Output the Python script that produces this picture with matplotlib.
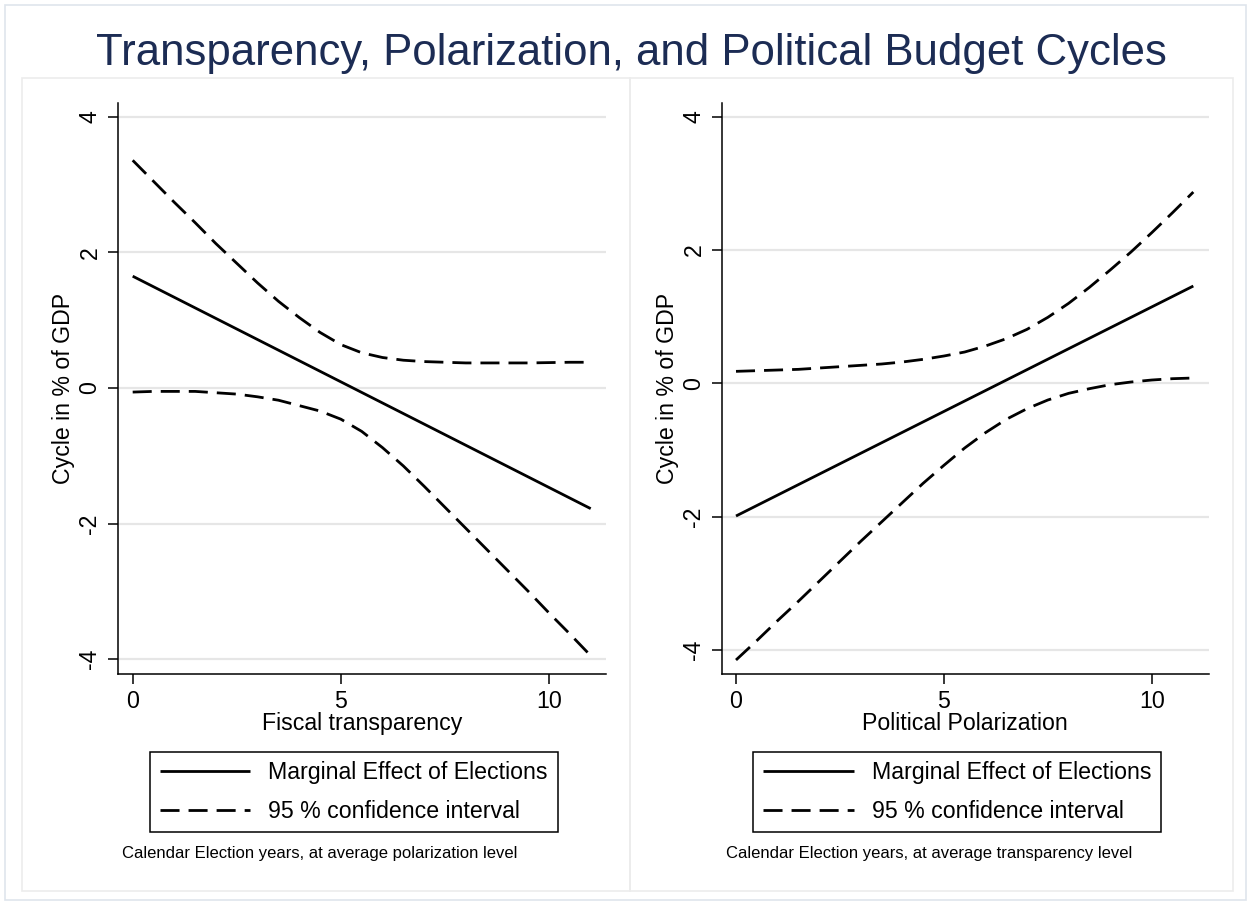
import matplotlib
matplotlib.use("Agg")
import matplotlib.pyplot as plt
from matplotlib.patches import Rectangle

plt.rcParams['font.family'] = ['Liberation Sans', 'DejaVu Sans']
plt.rcParams['axes.unicode_minus'] = False

# ---------------- data ----------------
title = "Transparency, Polarization, and Political Budget Cycles"
ylabel = "Cycle in % of GDP"
legend_labels = ["Marginal Effect of Elections", "95 % confidence interval"]

# Left panel: fiscal transparency
left_xlabel = "Fiscal transparency"
left_note = "Calendar Election years, at average polarization level"
left_x = [0, 11]
left_me = [1.65, -1.78]
left_ci_x = [0, 0.5, 1, 1.5, 2, 2.5, 3, 3.5, 4, 4.5, 5, 5.5, 6, 6.5, 7, 7.5,
             8, 8.5, 9, 9.5, 10, 10.5, 11]
left_upper = [3.36, 3.05, 2.74, 2.44, 2.13, 1.84, 1.55, 1.28, 1.04, 0.82, 0.64,
              0.52, 0.45, 0.41, 0.39, 0.38, 0.37, 0.37, 0.37, 0.37, 0.375, 0.38, 0.38]
left_lower = [-0.06, -0.05, -0.05, -0.05, -0.07, -0.09, -0.13, -0.18, -0.26, -0.34,
              -0.46, -0.64, -0.88, -1.15, -1.45, -1.76, -2.07, -2.38, -2.69, -3.0,
              -3.32, -3.63, -3.95]

# Right panel: political polarization
right_xlabel = "Political Polarization"
right_note = "Calendar Election years, at average transparency level"
right_x = [0, 11]
right_me = [-1.99, 1.46]
right_ci_x = [0, 0.5, 1, 1.5, 2, 2.5, 3, 3.5, 4, 4.5, 5, 5.5, 6, 6.5, 7, 7.5,
              8, 8.5, 9, 9.5, 10, 10.5, 11]
right_upper = [0.18, 0.19, 0.20, 0.21, 0.23, 0.25, 0.27, 0.29, 0.32, 0.36, 0.41,
               0.47, 0.56, 0.67, 0.81, 0.99, 1.2, 1.44, 1.7, 1.97, 2.26, 2.56, 2.87]
right_lower = [-4.15, -3.86, -3.56, -3.27, -2.97, -2.67, -2.37, -2.08, -1.79, -1.5,
               -1.23, -0.97, -0.74, -0.54, -0.38, -0.25, -0.15, -0.08, -0.02, 0.02,
               0.05, 0.07, 0.08]

xticks = [0, 5, 10]
yticks = [-4, -2, 0, 2, 4]

# ---------------- layout ----------------
W, H = 1251, 905
fig = plt.figure(figsize=(W / 100, H / 100), dpi=100)
fig.patch.set_facecolor("white")

def fx(px):
    return px / W

def fy(py):
    return 1 - py / H

# outer frame and panel frames
fig.patches.append(Rectangle((fx(5), fy(900)), fx(1246) - fx(5), fy(5) - fy(900),
                             transform=fig.transFigure, fill=False,
                             edgecolor="#dfe5ec", linewidth=1.2))
for x0, x1 in [(22, 630), (630, 1233)]:
    fig.patches.append(Rectangle((fx(x0), fy(891)), fx(x1) - fx(x0), fy(78) - fy(891),
                                 transform=fig.transFigure, fill=False,
                                 edgecolor="#ececec", linewidth=1.2))

fig.text(fx(631), fy(65), title, ha="center", va="baseline",
         fontsize=31.5, color="#1c2c54")

top, bottom = 102.7, 674
panels = [
    dict(left=117.7, right=605.7, x=left_x, me=left_me, cx=left_ci_x,
         up=left_upper, lo=left_lower, xl=left_xlabel, note=left_note,
         ylim=(-4.22, 4.21), xlim=(-0.36, 11.36), legx=150),
    dict(left=721.7, right=1208.7, x=right_x, me=right_me, cx=right_ci_x,
         up=right_upper, lo=right_lower, xl=right_xlabel, note=right_note,
         ylim=(-4.36, 4.21), xlim=(-0.344, 11.37), legx=753.3),
]

fs = 16.7
lw = 2.0
dash = (6.85, 3.25)
for p in panels:
    aw = p["right"] - p["left"]
    ah = bottom - top
    ax = fig.add_axes([fx(p["left"]), fy(bottom), fx(p["right"]) - fx(p["left"]),
                       fy(top) - fy(bottom)])
    ax.set_xlim(*p["xlim"])
    ax.set_ylim(*p["ylim"])
    for s in ["top", "right"]:
        ax.spines[s].set_visible(False)
    for s in ["left", "bottom"]:
        ax.spines[s].set_linewidth(1.1)
        ax.spines[s].set_color("black")
    ax.set_xticks(xticks)
    ax.set_yticks(yticks)
    ax.set_axisbelow(True)
    ax.yaxis.grid(True, color="#e6e6e6", linewidth=1.6)
    ax.tick_params(axis="both", direction="out", length=7.2, width=1.1,
                   labelsize=fs, pad=4.5)
    for lab in ax.get_yticklabels():
        lab.set_rotation(90)
        lab.set_va("center")

    l1, = ax.plot(p["x"], p["me"], color="black", linewidth=lw,
                  solid_capstyle="butt")
    l2, = ax.plot(p["cx"], p["up"], color="black", linewidth=lw, dashes=dash)
    ax.plot(p["cx"], p["lo"], color="black", linewidth=lw, dashes=dash)

    ax.set_ylabel(ylabel, fontsize=fs)
    ax.yaxis.set_label_coords(-0.088, 0.5)
    ax.set_xlabel(p["xl"], fontsize=fs)
    ax.xaxis.set_label_coords(0.5, -0.066)

    leg = ax.legend([l1, l2], legend_labels, loc="upper left",
                    bbox_to_anchor=((p["legx"] - p["left"]) / aw, (bottom - 751.7) / ah),
                    fontsize=fs, frameon=True, fancybox=False, framealpha=1,
                    edgecolor="black", handlelength=3.9, handletextpad=0.78,
                    borderpad=0.42, labelspacing=0.66, borderaxespad=0)
    leg.get_frame().set_linewidth(1.1)

    fig.text(fx(p["left"] + 4), fy(853), p["note"], ha="left", va="center",
             fontsize=12)

fig.savefig("out.png", dpi=100, facecolor="white")
